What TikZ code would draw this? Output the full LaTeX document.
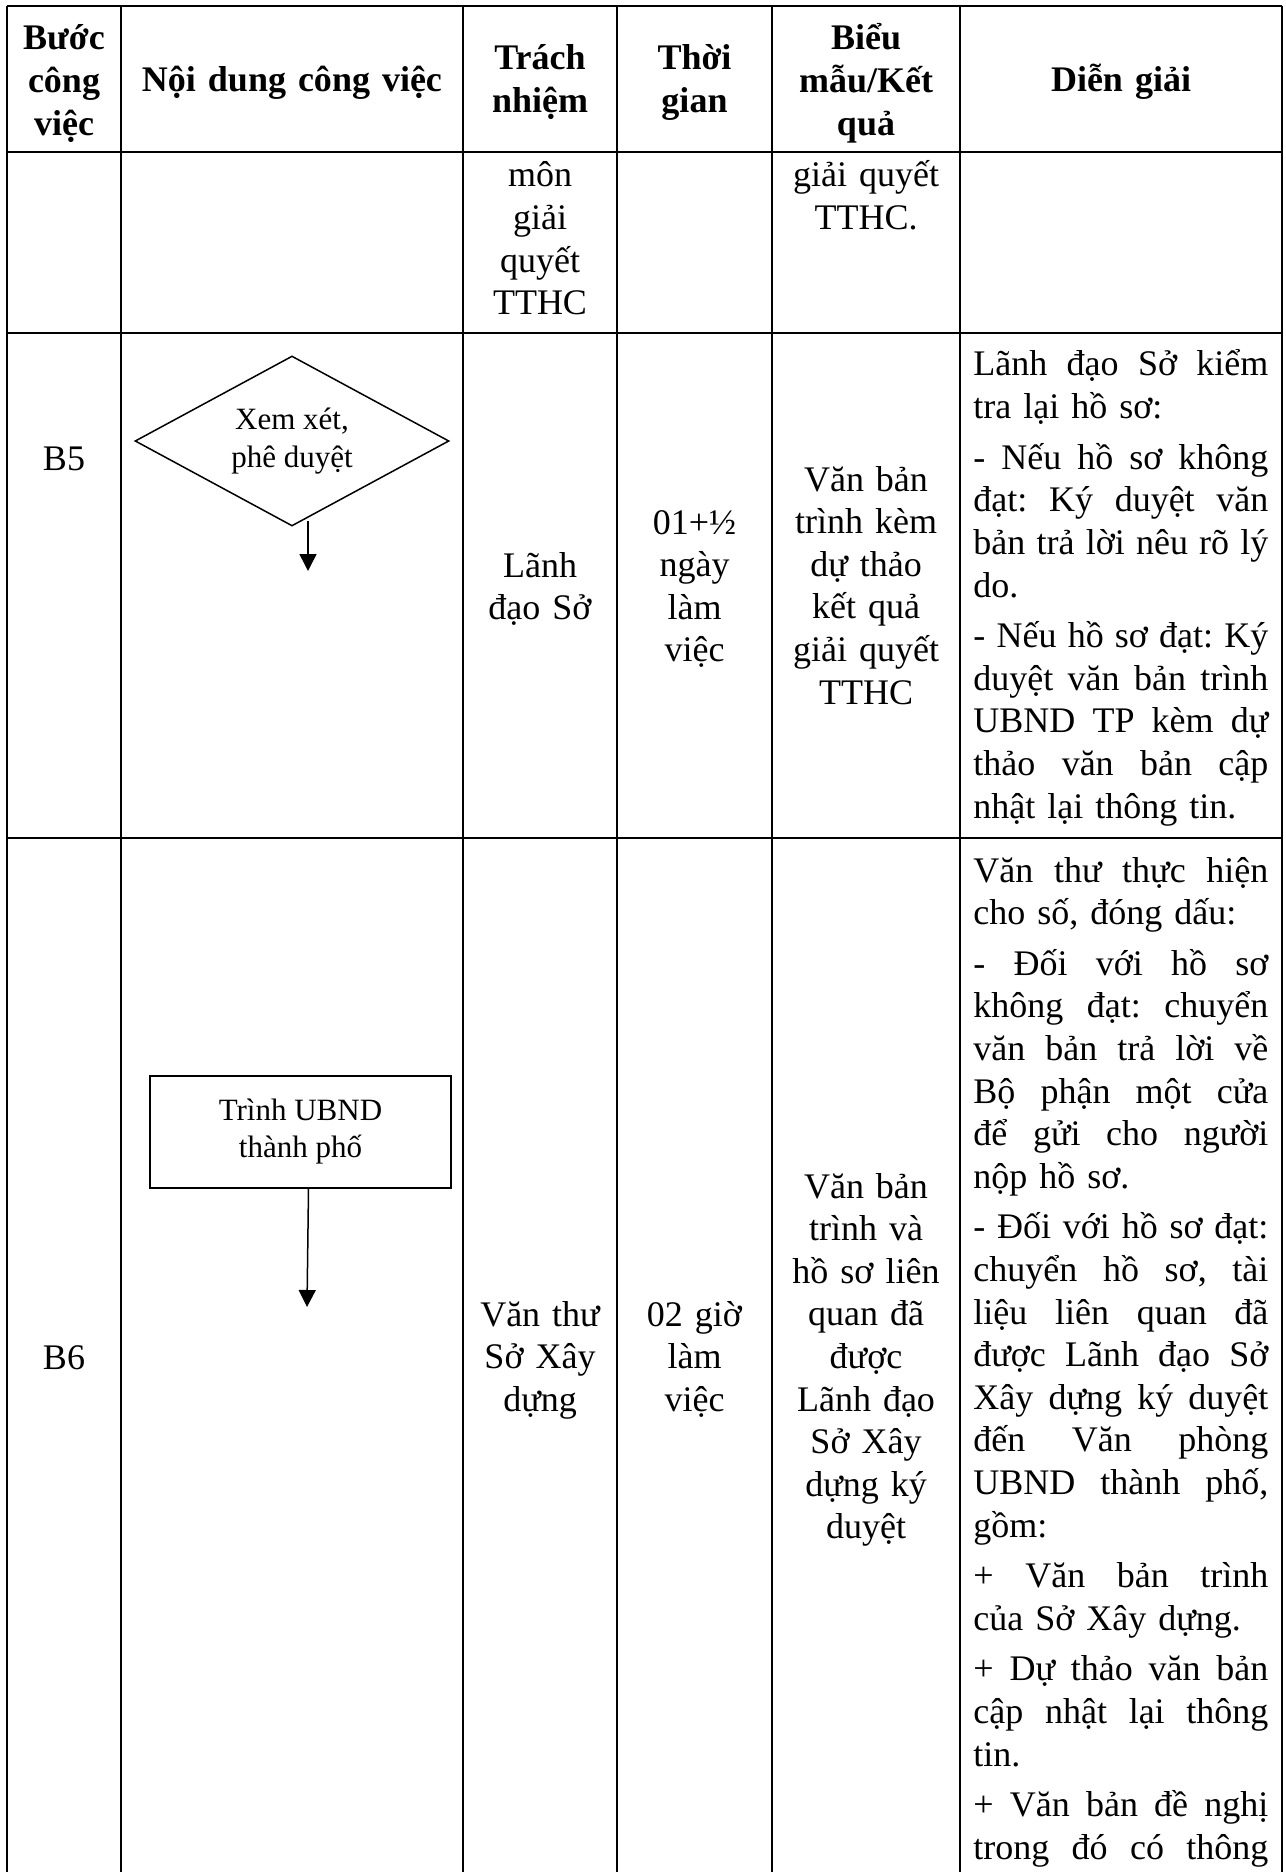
\documentclass[tikz,border=0pt]{standalone}
\usepackage{fontspec}
\setmainfont{Liberation Serif}
\usetikzlibrary{shapes.geometric,arrows.meta}
\newlength{\notewd}
\setlength{\notewd}{147.5pt}
\newcommand{\jl}[1]{{\spaceskip=0pt\xspaceskip=0pt\makebox[\notewd][s]{#1}}}
\frenchspacing

\begin{document}
\begin{tikzpicture}[x=0.5pt,y=-0.5pt,
  grid/.style={draw,line width=0.7pt},
  cell/.style={anchor=base,align=center,inner sep=0pt,font=\fontsize{18}{21.3}\selectfont},
  head/.style={cell,font=\fontsize{18}{21.3}\selectfont\bfseries},
  note/.style={anchor=base west,align=left,inner sep=0pt,text width=\notewd,font=\fontsize{18}{21.3}\selectfont},
  decision/.style={draw,diamond,line width=0.75pt,shape aspect=1.85,minimum width=157pt,minimum height=85pt,inner sep=0pt,align=center,font=\fontsize{15.5}{19}\selectfont},
  process/.style={draw,rectangle,line width=0.75pt,minimum width=150.5pt,minimum height=56pt,inner sep=0pt,align=center,font=\fontsize{15.5}{18.5}\selectfont},
  flow/.style={draw,line width=0.75pt,-{Triangle[length=8.5pt,width=8.5pt]}}]
\useasboundingbox (0,0) rectangle (1285,1872);

\path[grid] (7,6) -- (1282,6);
\path[grid] (7,152) -- (1282,152);
\path[grid] (7,333) -- (1282,333);
\path[grid] (7,838) -- (1282,838);
\foreach \x in {7,121,463,617,772,960,1282}
  \path[grid] (\x,6) -- (\x,1890);

\node[head,text width=50pt] (hstep) at (64,50) {Bước\\công\\việc};
\node[head,text width=160pt] (hcontent) at (292,92) {Nội dung công việc};
\node[head,text width=70pt] (hresp) at (540,70) {Trách\\nhiệm};
\node[head,text width=70pt] (htime) at (694.5,70) {Thời\\gian};
\node[head,text width=90pt] (hform) at (866,50) {Biểu\\mẫu/Kết\\quả};
\node[head,text width=150pt] (hnote) at (1121,92) {Diễn giải};

\node[cell,text width=70pt] (r1resp) at (540,187) {môn\\giải\\quyết\\TTHC};
\node[cell,text width=90pt] (r1form) at (866,187) {giải quyết\\TTHC.};

\node[cell,text width=50pt] (b5step) at (64,470) {B5};
\node[decision] (b5box) at (292,441) {Xem xét,\\phê duyệt};
\coordinate (b5end) at (308,571);
\path[flow] ([xshift=8pt,yshift=3pt]b5box.south) -- (b5end);
\node[cell,text width=70pt] (b5resp) at (540,577) {Lãnh\\đạo Sở};
\node[cell,text width=70pt] (b5time) at (694.5,534) {01+½\\ngày\\làm\\việc};
\node[cell,text width=90pt] (b5form) at (866,491) {Văn bản\\trình kèm\\dự thảo\\kết quả\\giải quyết\\TTHC};
\node[note] (b5note) at (973,376) {\jl{Lãnh đạo Sở kiểm}\\
tra lại hồ sơ:\\[4pt]
\jl{- Nếu hồ sơ không}\\
\jl{đạt: Ký duyệt văn}\\
\jl{bản trả lời nêu rõ lý}\\
do.\\[4pt]
\jl{- Nếu hồ sơ đạt: Ký}\\
\jl{duyệt văn bản trình}\\
\jl{UBND TP kèm dự}\\
\jl{thảo văn bản cập}\\
nhật lại thông tin.};

\node[cell,text width=50pt] (b6step) at (64,1369) {B6};
\node[process] (b6box) at (300.5,1132) {Trình UBND\\thành phố};
\coordinate (b6end) at (307,1307);
\path[flow] ([xshift=4pt]b6box.south) -- (b6end);
\node[cell,text width=70pt] (b6resp) at (540,1326) {Văn thư\\Sở Xây\\dựng};
\node[cell,text width=70pt] (b6time) at (694.5,1326) {02 giờ\\làm\\việc};
\node[cell,text width=90pt] (b6form) at (866,1198) {Văn bản\\trình và\\hồ sơ liên\\quan đã\\được\\Lãnh đạo\\Sở Xây\\dựng ký\\duyệt};
\node[note] (b6note) at (973,882) {\jl{Văn thư thực hiện}\\
cho số, đóng dấu:\\[4pt]
\jl{- Đối với hồ sơ}\\
\jl{không đạt: chuyển}\\
\jl{văn bản trả lời về}\\
\jl{Bộ phận một cửa}\\
\jl{để gửi cho người}\\
nộp hồ sơ.\\[4pt]
\jl{- Đối với hồ sơ đạt:}\\
\jl{chuyển hồ sơ, tài}\\
\jl{liệu liên quan đã}\\
\jl{được Lãnh đạo Sở}\\
\jl{Xây dựng ký duyệt}\\
\jl{đến Văn phòng}\\
\jl{UBND thành phố,}\\
gồm:\\[4pt]
\jl{+ Văn bản trình}\\
của Sở Xây dựng.\\[4pt]
\jl{+ Dự thảo văn bản}\\
\jl{cập nhật lại thông}\\
tin.\\[4pt]
\jl{+ Văn bản đề nghị}\\
\jl{trong đó có thông}};
\end{tikzpicture}
\end{document}
